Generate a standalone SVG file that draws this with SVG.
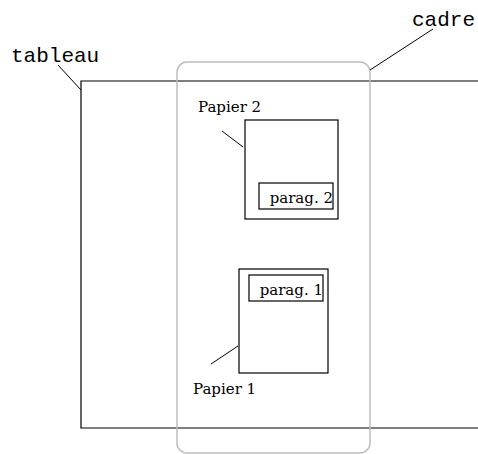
<svg xmlns="http://www.w3.org/2000/svg" width="478" height="454" viewBox="0 0 478 454">
<style>
.blk{fill:none;stroke:#000;stroke-width:1.2}
.mono{font-family:"Liberation Mono","Courier New",monospace;font-size:21px;fill:#000}
.ser{font-family:"DejaVu Serif","Liberation Serif",serif;font-size:15px;fill:#000}
</style>
<rect width="478" height="454" fill="#fff"/>
<g id="tableau">
<path class="blk" d="M479,81 H81 V428 H479"/>
<text class="mono" x="11" y="62">tableau</text>
</g>
<g id="cadre">
<rect x="177" y="62" width="193" height="391" rx="10" ry="10" fill="none" stroke="#bdbdbd" stroke-width="1.5"/>
<text class="mono" x="412" y="26">cadre</text>
</g>
<g id="papier2">
<rect class="blk" x="245" y="120" width="93" height="99"/>
<text class="ser" x="198" y="112">Papier 2</text>
</g>
<g id="parag2">
<rect class="blk" x="259" y="183" width="74" height="26"/>
<text class="ser" x="333" y="203" text-anchor="end">parag. 2</text>
</g>
<g id="papier1">
<rect class="blk" x="239" y="269" width="89" height="104"/>
<text class="ser" x="193" y="394">Papier 1</text>
</g>
<g id="parag1">
<rect class="blk" x="249" y="275" width="74" height="26"/>
<text class="ser" x="323" y="295" text-anchor="end">parag. 1</text>
</g>
<g id="connectors" stroke="#000" stroke-width="1">
<line x1="58" y1="65" x2="81" y2="90"/>
<line x1="370" y1="70" x2="433" y2="29"/>
<line x1="222" y1="131" x2="243" y2="147"/>
<line x1="211" y1="364" x2="238" y2="346"/>
</g>
</svg>
